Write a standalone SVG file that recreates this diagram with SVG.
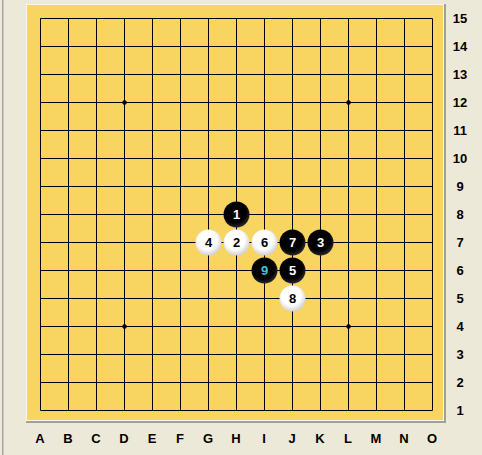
<svg xmlns="http://www.w3.org/2000/svg" width="482" height="455" viewBox="0 0 482 455">
<defs>
<radialGradient id="wg" cx="0.45" cy="0.4" r="0.6">
<stop offset="0.6" stop-color="#ffffff"/>
<stop offset="1" stop-color="#d0d0d0"/>
</radialGradient>
<radialGradient id="bg" cx="0.45" cy="0.4" r="0.6">
<stop offset="0.7" stop-color="#000000"/>
<stop offset="1" stop-color="#2a2a2a"/>
</radialGradient>
</defs>
<style>
.grid line{stroke:#000;stroke-width:1}
.lbl{font-family:"Liberation Sans",Arial,sans-serif;font-weight:bold;font-size:13px;fill:#000;text-anchor:middle}
.num{font-family:"Liberation Sans",Arial,sans-serif;font-weight:bold;font-size:13px;text-anchor:middle}
.bs{fill:url(#bg)}
.ws{fill:url(#wg)}
.star{fill:#000}
</style>
<rect x="0" y="0" width="482" height="455" fill="#ece9d8"/>
<rect x="2" y="0" width="1.5" height="455" fill="#a8a8a0"/>
<!-- board -->
<rect x="26" y="4" width="420" height="419" fill="#a0a0a0"/>
<rect x="26" y="4" width="418" height="417" fill="#fdf6e0"/>
<rect x="27" y="5" width="416" height="415" fill="#f8d460"/>
<g class="grid" transform="translate(0.5 0.5)">
<line x1="40" y1="18" x2="432" y2="18"/><line x1="40" y1="46" x2="432" y2="46"/><line x1="40" y1="74" x2="432" y2="74"/><line x1="40" y1="102" x2="432" y2="102"/><line x1="40" y1="130" x2="432" y2="130"/><line x1="40" y1="158" x2="432" y2="158"/><line x1="40" y1="186" x2="432" y2="186"/><line x1="40" y1="214" x2="432" y2="214"/><line x1="40" y1="242" x2="432" y2="242"/><line x1="40" y1="270" x2="432" y2="270"/><line x1="40" y1="298" x2="432" y2="298"/><line x1="40" y1="326" x2="432" y2="326"/><line x1="40" y1="354" x2="432" y2="354"/><line x1="40" y1="382" x2="432" y2="382"/><line x1="40" y1="410" x2="432" y2="410"/>
<line x1="40" y1="18" x2="40" y2="410"/><line x1="68" y1="18" x2="68" y2="410"/><line x1="96" y1="18" x2="96" y2="410"/><line x1="124" y1="18" x2="124" y2="410"/><line x1="152" y1="18" x2="152" y2="410"/><line x1="180" y1="18" x2="180" y2="410"/><line x1="208" y1="18" x2="208" y2="410"/><line x1="236" y1="18" x2="236" y2="410"/><line x1="264" y1="18" x2="264" y2="410"/><line x1="292" y1="18" x2="292" y2="410"/><line x1="320" y1="18" x2="320" y2="410"/><line x1="348" y1="18" x2="348" y2="410"/><line x1="376" y1="18" x2="376" y2="410"/><line x1="404" y1="18" x2="404" y2="410"/><line x1="432" y1="18" x2="432" y2="410"/>
</g>
<g id="stars" transform="translate(0.5 0.5)">
<path class="star" d="M124 99L127 102L124 105L121 102Z"/>
<path class="star" d="M348 99L351 102L348 105L345 102Z"/>
<path class="star" d="M124 323L127 326L124 329L121 326Z"/>
<path class="star" d="M348 323L351 326L348 329L345 326Z"/>
</g>
<g transform="translate(0.5 0.5)">
<g id="s1"><circle class="bs" cx="236" cy="214" r="13"/><text class="num" x="236" y="218.5" fill="#fff">1</text></g>
<g id="s2"><circle class="ws" cx="236" cy="242" r="13"/><text class="num" x="236" y="246.5" fill="#000">2</text></g>
<g id="s3"><circle class="bs" cx="320" cy="242" r="13"/><text class="num" x="320" y="246.5" fill="#fff">3</text></g>
<g id="s4"><circle class="ws" cx="208" cy="242" r="13"/><text class="num" x="208" y="246.5" fill="#000">4</text></g>
<g id="s5"><circle class="bs" cx="292" cy="270" r="13"/><text class="num" x="292" y="274.5" fill="#fff">5</text></g>
<g id="s6"><circle class="ws" cx="264" cy="242" r="13"/><text class="num" x="264" y="246.5" fill="#000">6</text></g>
<g id="s7"><circle class="bs" cx="292" cy="242" r="13"/><text class="num" x="292" y="246.5" fill="#fff">7</text></g>
<g id="s8"><circle class="ws" cx="292" cy="298" r="13"/><text class="num" x="292" y="302.5" fill="#000">8</text></g>
<g id="s9"><circle class="bs" cx="264" cy="270" r="13"/><text class="num" x="264" y="274.5" fill="#3cc8d8">9</text></g>
</g>
<g id="cols">
<text class="lbl" x="40" y="443">A</text><text class="lbl" x="68" y="443">B</text><text class="lbl" x="96" y="443">C</text><text class="lbl" x="124" y="443">D</text><text class="lbl" x="152" y="443">E</text><text class="lbl" x="180" y="443">F</text><text class="lbl" x="208" y="443">G</text><text class="lbl" x="236" y="443">H</text><text class="lbl" x="264" y="443">I</text><text class="lbl" x="292" y="443">J</text><text class="lbl" x="320" y="443">K</text><text class="lbl" x="348" y="443">L</text><text class="lbl" x="376" y="443">M</text><text class="lbl" x="404" y="443">N</text><text class="lbl" x="432" y="443">O</text>
</g>
<g id="rows">
<text class="lbl" x="460" y="22.5">15</text><text class="lbl" x="460" y="50.5">14</text><text class="lbl" x="460" y="78.5">13</text><text class="lbl" x="460" y="106.5">12</text><text class="lbl" x="460" y="134.5">11</text><text class="lbl" x="460" y="162.5">10</text><text class="lbl" x="460" y="190.5">9</text><text class="lbl" x="460" y="218.5">8</text><text class="lbl" x="460" y="246.5">7</text><text class="lbl" x="460" y="274.5">6</text><text class="lbl" x="460" y="302.5">5</text><text class="lbl" x="460" y="330.5">4</text><text class="lbl" x="460" y="358.5">3</text><text class="lbl" x="460" y="386.5">2</text><text class="lbl" x="460" y="414.5">1</text>
</g>
</svg>
